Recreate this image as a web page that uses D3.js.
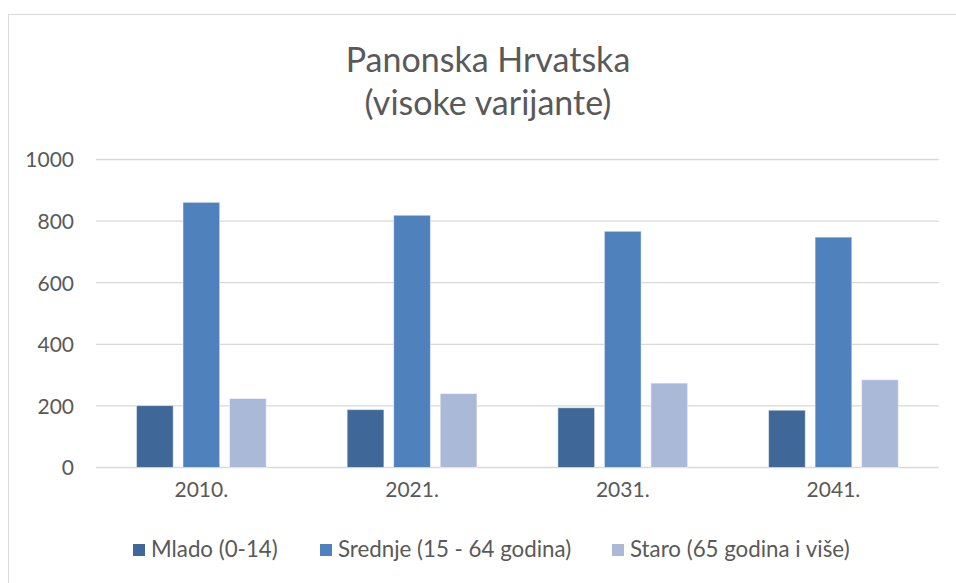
<!DOCTYPE html>
<html><head><meta charset="utf-8">
<script src="https://cdn.jsdelivr.net/npm/d3@7/dist/d3.min.js"></script>
<style>
html,body{margin:0;padding:0;background:#fff;}
text{font-family:Lato,"Open Sans",sans-serif;fill:#595959;}
</style></head>
<body><svg id="c" width="956" height="583"></svg>
<script>
const categories = ["2010.", "2021.", "2031.", "2041."];
const seriesNames = ["Mlado (0-14)", "Srednje (15 - 64 godina)", "Staro (65 godina i više)"];
const mlado = [201, 188, 194, 186];
const srednje = [861, 819, 767, 748];
const staro = [224, 240, 274, 285];
const yTicks = [0, 200, 400, 600, 800, 1000];
const colors = ["#3F6899", "#4F81BD", "#AAB9D7"];
const titleLines = ["Panonska Hrvatska", "(visoke varijante)"];

const seriesValues = [mlado, srednje, staro];
const svg = d3.select("#c");

svg.append("rect").attr("x", 8.5).attr("y", 14.5).attr("width", 960).attr("height", 580)
  .attr("fill", "#fff").attr("stroke", "#d9d9d9").attr("stroke-width", 1);

const plot = {left: 96, right: 938.8, top: 159.5, bottom: 467.5};
const x0 = d3.scaleBand().domain(categories).range([plot.left, plot.right]).padding(0);
const x1 = d3.scaleBand().domain(seriesNames).range([0, x0.bandwidth()])
  .paddingInner(0.21).paddingOuter(0.87);
const y = d3.scaleLinear().domain([0, 1000]).range([plot.bottom, plot.top]);

// gridlines
svg.append("g").selectAll("line").data(yTicks).join("line")
  .attr("x1", plot.left).attr("x2", plot.right)
  .attr("y1", d => y(d)).attr("y2", d => y(d))
  .attr("stroke", "#d9d9d9").attr("stroke-width", 1.3);

// y axis labels
const yAxis = d3.axisLeft(y).tickValues(yTicks).tickSize(0).tickPadding(0).tickFormat(d3.format("d"));
const gy = svg.append("g").attr("transform", `translate(74,0)`).call(yAxis);
gy.select(".domain").remove();
gy.selectAll("text").attr("font-size", 21).attr("dy", "0.35em")
  .style("font-family", "Lato").attr("fill", "#595959");

// bars
const gBars = svg.append("g");
seriesNames.forEach((s, si) => {
  gBars.append("g").selectAll("rect").data(categories.map((c, ci) => ({c, v: seriesValues[si][ci]})))
    .join("rect")
    .attr("x", d => x0(d.c) + x1(s))
    .attr("width", x1.bandwidth())
    .attr("y", d => y(d.v))
    .attr("height", d => y(0) - y(d.v))
    .attr("fill", colors[si])
    .attr("stroke", "#ffffff").attr("stroke-opacity", 0.5).attr("stroke-width", 1);
});

// x axis labels
const xAxis = d3.axisBottom(x0).tickSize(0).tickPadding(0);
const gx = svg.append("g").attr("transform", `translate(0,${plot.bottom})`).call(xAxis);
gx.select(".domain").remove();
gx.selectAll("text").attr("font-size", 21).attr("y", 29).attr("dy", 0)
  .style("font-family", "Lato").attr("fill", "#595959");

// title
svg.append("g").selectAll("text").data(titleLines).join("text")
  .attr("x", 488).attr("y", (d, i) => 72 + i * 43)
  .attr("text-anchor", "middle").attr("font-size", 34).attr("font-weight", 400)
  .text(d => d);

// legend
const legendX = [133, 320, 612];
const lg = svg.append("g").selectAll("g").data(seriesNames).join("g")
  .attr("transform", (d, i) => `translate(${legendX[i]},0)`);
lg.append("rect").attr("x", 0).attr("y", 544).attr("width", 12).attr("height", 12)
  .attr("fill", (d, i) => colors[i]);
lg.append("text").attr("x", 18).attr("y", 557).attr("font-size", 22.3).text(d => d);
</script></body></html>
